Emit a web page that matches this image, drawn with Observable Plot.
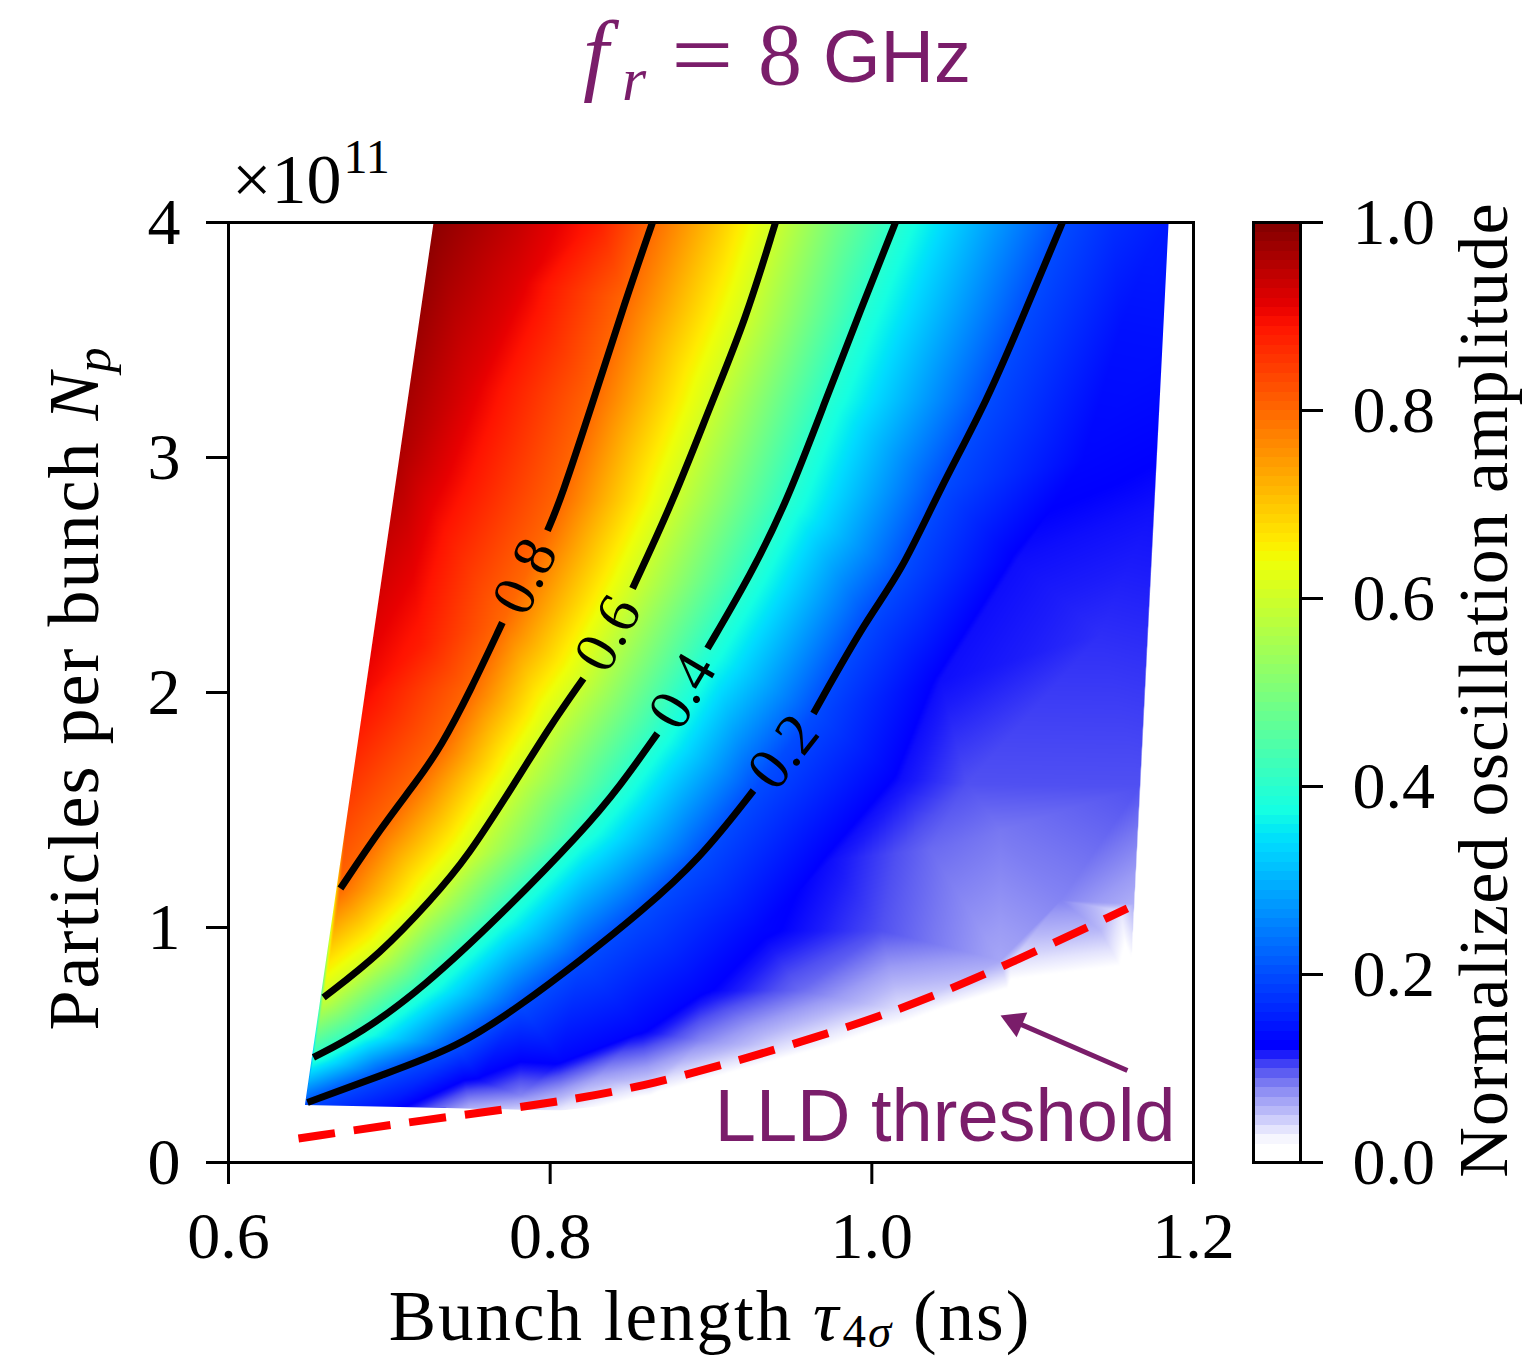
<!DOCTYPE html>
<html>
<head>
<meta charset="utf-8">
<script src="https://cdn.jsdelivr.net/npm/d3@7"></script>
<script src="https://cdn.jsdelivr.net/npm/@observablehq/plot@0.6"></script>
<style>
  html, body { margin: 0; padding: 0; background: #ffffff; }
  #wrap { position: relative; width: 1523px; height: 1358px; overflow: hidden; }
  #wrap svg { position: absolute; left: 0; top: 0; }
</style>
</head>
<body>
<div id="wrap"></div>
<script>
// ---------------- data ----------------
const xTicks = [0.6, 0.8, 1.0, 1.2];
const yTicks = [0, 1, 2, 3, 4];
const cbTicks = [0, 0.2, 0.4, 0.6, 0.8, 1.0];
const xDomain = [0.6, 1.2];
const yDomain = [0, 4];            // ×10^11

const levels = [0.8, 0.6, 0.4, 0.2];
// contour lines [bunch length (ns), Np (1e11)], NaN pair = gap for the inline label
const contour08 = [[0.6696,1.166],[0.6945,1.421],[0.7175,1.626],[0.7318,1.766],[0.7505,2.009],[0.7703,2.298],
  [NaN,NaN],[0.7983,2.689],[0.8064,2.817],[0.8269,3.243],[0.8468,3.668],[0.8636,4.0]];
const contour06 = [[0.6591,0.702],[0.6945,0.889],[0.7256,1.115],[0.7486,1.298],[0.7790,1.626],[0.8002,1.860],[0.8207,2.060],
  [NaN,NaN],[0.8512,2.443],[0.8767,2.817],[0.9009,3.243],[0.9214,3.583],[0.9401,4.0]];
const contour04 = [[0.6528,0.447],[0.6821,0.549],[0.7212,0.745],[0.7691,1.051],[0.8207,1.413],[0.8437,1.604],[0.8667,1.826],
  [NaN,NaN],[0.8978,2.187],[0.9245,2.498],[0.9475,2.817],[0.9712,3.243],[0.9929,3.626],[1.0147,4.0]];
const contour02 = [[0.6491,0.255],[0.6945,0.370],[0.7424,0.489],[0.7815,0.668],[0.8188,0.860],[0.8561,1.064],[0.8934,1.294],[0.9264,1.583],
  [NaN,NaN],[0.9637,1.911],[0.9973,2.319],[1.0178,2.506],[1.0427,2.872],[1.0719,3.243],[1.0955,3.626],[1.1185,4.0]];

// inline contour labels [x, y, text, angle]
const contourLabels = [[0.7843,2.494,"0.8",-63.9],[0.8359,2.251,"0.6",-61.4],[0.8822,2.006,"0.4",-59.5],[0.9450,1.747,"0.2",-52.0]];

// other amplitude samples [x, y, amplitude]
const edgeSamples = [
  [0.6475,0.245,0.20],[0.6742,1.5,0.84],[0.6849,2.0,0.90],[0.7062,3.0,0.96],[0.7275,4.0,0.99],
  [0.78,4.0,0.94],[0.83,4.0,0.88],[0.90,4.0,0.71],[0.975,4.0,0.50],[1.065,4.0,0.30],[1.15,4.0,0.17],[1.1845,4.0,0.15],
  [1.1805,3.5,0.14],[1.1755,2.8,0.12],[1.1711,2.2,0.11],[1.1667,1.6,0.10],[1.1631,1.1,0.06],[1.1608,0.7532,0.0],
  [1.0862,0.6894,0.0],[1.0178,0.5191,0.0],[0.9432,0.3830,0.0],[0.8624,0.2638,0.01],[0.8064,0.2213,0.03],
  [0.7505,0.2298,0.06],[0.70,0.237,0.14]
];
const interiorSamples = [
  [0.75,3.3,0.92],[0.78,3.75,0.92],[0.72,2.2,0.88],
  [0.7567,0.349,0.12],[0.8064,0.434,0.13],[0.8561,0.562,0.13],[0.8934,0.732,0.13],[0.9307,0.987,0.13],
  [0.9743,1.285,0.12],[1.0178,1.626,0.12],[1.0427,2.051,0.12],[1.0905,2.562,0.12],[1.1316,2.987,0.13],
  [1.1546,3.540,0.14],[1.1732,3.881,0.15],[1.1421,2.251,0.11],[1.0594,1.613,0.10],[1.0800,1.413,0.085],
  [1.1173,1.115,0.08],[1.0364,1.328,0.09],[1.0054,0.987,0.10],[0.9556,0.732,0.09],[0.8934,0.519,0.08],
  [0.8313,0.370,0.07],[0.7815,0.285,0.08],[1.0800,0.860,0.065],[1.1421,0.987,0.055],
  [0.8624,0.330,0.04],[0.9432,0.485,0.035],[1.0178,0.647,0.035],[1.0862,0.847,0.035],[1.1550,1.070,0.035]
];
// outline of the simulated region
const region = [[0.6475,0.245],[0.7275,4.0],[1.1845,4.0],[1.1608,0.7532],[1.0862,0.6894],[1.0178,0.5191],
  [0.9432,0.3830],[0.8624,0.2638],[0.8064,0.2213],[0.7505,0.2298]];

// LLD threshold curve
const lld = [[0.6435,0.102],[0.7194,0.179],[0.800,0.251],[0.8624,0.328],[0.9432,0.485],[1.0178,0.647],[1.0862,0.847],[1.1589,1.081]];
// annotation: label anchor, arrow tail, arrow head (data coords)
const lldLabel = ["LLD threshold", 1.1888, 0.193];
const arrowTail = [1.1589, 0.3915];
const arrowHead = [1.0889, 0.599, -66.6];

// colour map (white → blue, then jet)
const colorStops = [0, 0.02, 0.035, 0.055, 0.07, 0.085, 0.1, 0.115, 0.125, 0.34, 0.35, 0.375, 0.64, 0.65, 0.66, 0.89, 0.91, 1.0];
const colorValues = ["#ffffff","#ffffff","#e4e4fd","#b8b8f8","#9c9cf5","#7878f2","#5050f2","#1c1cfa","#0000ff",
  "#00dbff","#00e6f7","#15ffe2","#efff08","#f7f500","#ffec00","#ff1300","#e80000","#800000"];

// ---------------- build ----------------
const W = 1523, H = 1358;
const serif = "'Liberation Serif','Times New Roman','DejaVu Serif',serif";
const sans = "'Liberation Sans',Arial,'DejaVu Sans',sans-serif";
const purple = "#7a1d6a";

const cmap = d3.scaleLinear().domain(colorStops).range(colorValues).clamp(true);
const colorScale = {type: "linear", domain: [0, 1], interpolate: (t) => cmap(t), clamp: true};

const contours = [contour08, contour06, contour04, contour02];
const contourRows = [];
const samples = [];
contours.forEach((pts, i) => {
  pts.forEach(([x, y]) => {
    contourRows.push({x, y, level: levels[i]});
    if (Number.isFinite(x)) samples.push({x, y, v: levels[i]});
  });
});
edgeSamples.concat(interiorSamples).forEach(([x, y, v]) => samples.push({x, y, v}));
const lldRows = lld.map(([x, y]) => ({x, y}));
const labelRows = contourLabels.map(([x, y, text, angle]) => ({x, y, text, angle}));

const chart = Plot.plot({
  width: W, height: H,
  marginLeft: 228, marginRight: W - 1193, marginTop: 222, marginBottom: H - 1162,
  style: {background: "transparent", overflow: "visible", color: "black"},
  x: {domain: xDomain},
  y: {domain: yDomain},
  color: colorScale,
  marks: [
    Plot.raster(samples, {x: "x", y: "y", fill: "v", interpolate: "barycentric"}),
    Plot.line(contourRows, {x: "x", y: "y", z: "level", stroke: "black", strokeWidth: 7, curve: "basis", strokeLinecap: "butt"}),
    Plot.line(lldRows, {x: "x", y: "y", stroke: "#ff0000", strokeWidth: 8, strokeDasharray: "37,19", curve: "basis", strokeLinecap: "butt"}),
    Plot.text(labelRows, {x: "x", y: "y", text: "text", rotate: "angle", fontSize: 60, fontFamily: serif, fill: "black"}),
    Plot.link([0], {x1: arrowTail[0], y1: arrowTail[1], x2: arrowHead[0], y2: arrowHead[1], stroke: purple, strokeWidth: 5}),
    Plot.dot([0], {x: arrowHead[0], y: arrowHead[1], symbol: "triangle", r: 10, fill: purple, stroke: "none", rotate: arrowHead[2]}),
    Plot.text([lldLabel], {x: (d) => d[1], y: (d) => d[2], text: (d) => d[0], textAnchor: "end", lineAnchor: "middle",
      fontSize: 74, fontFamily: sans, fill: purple}),
    Plot.frame({stroke: "black", strokeWidth: 3}),
    Plot.axisX({ticks: xTicks, tickFormat: ".1f", tickSize: 22, tickPadding: 27, strokeWidth: 3, fontSize: 66, fontFamily: serif, label: null}),
    Plot.axisY({ticks: yTicks, tickFormat: "d", tickSize: 22, tickPadding: 26, strokeWidth: 3, fontSize: 66, fontFamily: serif, label: null})
  ]
});

const cbar = Plot.plot({
  width: W, height: H,
  marginLeft: 1253, marginRight: W - 1300, marginTop: 222, marginBottom: H - 1162,
  style: {background: "transparent", overflow: "visible", color: "black"},
  x: {domain: [0, 1], axis: null},
  y: {domain: [0, 1]},
  color: colorScale,
  marks: [
    Plot.raster({x1: 0, x2: 1, y1: 0, y2: 1, fill: (x, y) => y, width: 1, height: 100, imageRendering: "pixelated"}),
    Plot.frame({stroke: "black", strokeWidth: 3}),
    Plot.axisY({anchor: "right", ticks: cbTicks, tickFormat: ".1f", tickSize: 22, tickPadding: 30, strokeWidth: 3, fontSize: 66, fontFamily: serif, label: null})
  ]
});

const wrap = document.getElementById("wrap");
wrap.appendChild(chart);
wrap.appendChild(cbar);

// clip the interpolated map to the simulated region (through the plot's scales)
const sx = chart.scale("x"), sy = chart.scale("y");
const svg = d3.select(chart);
const clipD = "M" + region.map(([x, y]) => `${sx.apply(x)},${sy.apply(y)}`).join("L") + "Z";
svg.insert("defs", ":first-child").append("clipPath").attr("id", "regionClip").append("path").attr("d", clipD);
svg.select('g[aria-label="raster"]').attr("clip-path", "url(#regionClip)");

// rich text: a group of separate text pieces placed one after another
function rich(target, opts, parts) {
  const g = target.append("g")
    .attr("font-family", opts.family)
    .attr("fill", opts.fill || "black")
    .attr("text-anchor", "start");
  let x = 0;
  for (const p of parts) {
    const t = g.append("text")
      .attr("text-anchor", "start")
      .attr("font-size", p.size || opts.size)
      .text(p.t);
    if (p.italic) t.attr("font-style", "italic");
    if (p.family) t.attr("font-family", p.family);
    if (opts.spacing) t.attr("letter-spacing", opts.spacing);
    const px = p.x != null ? p.x - opts.x : x + (p.dx || 0);
    const sxf = p.sx || 1;
    if (sxf !== 1) {
      t.attr("x", 0).attr("y", 0).attr("transform", `translate(${px},${p.dy || 0}) scale(${sxf},1)`);
    } else {
      t.attr("x", px).attr("y", p.dy || 0);
    }
    x = px + t.node().getComputedTextLength() * sxf + (p.after || 0);
  }
  const shift = opts.anchor === "middle" ? -x / 2 : 0;
  g.attr("transform", `translate(${opts.x},${opts.y})` + (opts.rotate ? ` rotate(${opts.rotate})` : "") + ` translate(${shift},0)`);
  return g;
}

// axis titles
rich(svg, {x: 710, y: 1340, anchor: "middle", size: 71, family: serif, spacing: 2}, [
  {t: "Bunch length "}, {t: "τ", italic: true}, {t: "4", size: 47, dy: 7, dx: 2}, {t: "σ", italic: true, size: 47, dy: 7}, {t: " (ns)"}
]);
rich(svg, {x: 98, y: 688, anchor: "middle", size: 72, family: serif, spacing: 2, rotate: -90}, [
  {t: "Particles per bunch "}, {t: "N", italic: true}, {t: "p", italic: true, size: 50, dy: 12, dx: -2}
]);
rich(svg, {x: 1507, y: 690, anchor: "middle", size: 70, family: serif, spacing: 1.2, rotate: -90}, [
  {t: "Normalized oscillation amplitude"}
]);
rich(svg, {x: 232, y: 203, size: 70, family: serif}, [
  {t: "×10"}, {t: "11", size: 48, dy: -30, dx: 2}
]);
// title
rich(svg, {x: 583, y: 84, size: 92, family: serif, fill: purple}, [
  {t: "f", italic: true, x: 583},
  {t: "r", italic: true, size: 62, dy: 16, x: 622},
  {t: "=", size: 94, dy: 2, x: 671, sx: 1.18},
  {t: "8", size: 88, x: 758},
  {t: "GHz", family: sans, size: 74, x: 823, dy: -2}
]);
</script>
</body>
</html>
